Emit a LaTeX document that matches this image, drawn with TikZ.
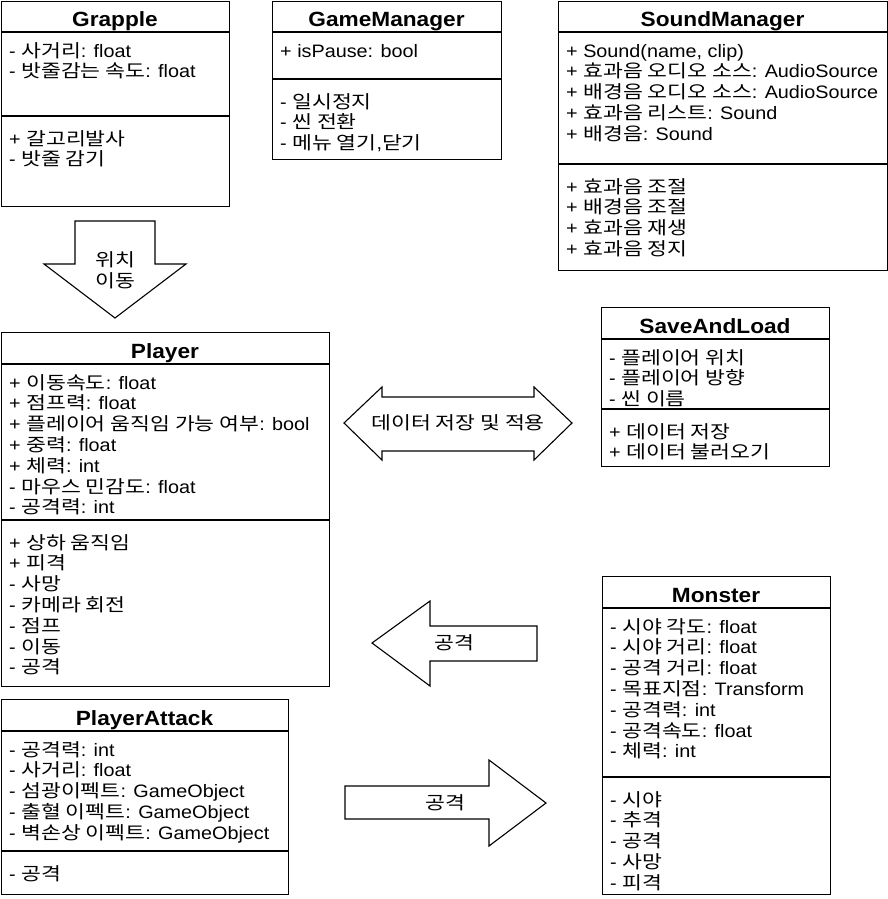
\documentclass[tikz,border=0pt]{standalone}
\usepackage{fontspec}
\setmainfont{Liberation Sans}[FakeStretch=1.1]
\newfontfamily\krfont{Noto Sans CJK KR}[FakeStretch=1.2]
\XeTeXinterchartokenstate=1
\newXeTeXintercharclass\HangulClass
\count255="AC00
\loop \XeTeXcharclass\count255=\HangulClass \ifnum\count255<"D7A3 \advance\count255 by 1 \repeat
\XeTeXinterchartoks 0 \HangulClass = {\krfont}
\XeTeXinterchartoks 4095 \HangulClass = {\krfont}
\XeTeXinterchartoks \HangulClass 0 = {\rmfamily}
\newcommand\bodyfont{\fontsize{18}{20.8}\selectfont}
\newcommand\titlefont{\fontsize{20.6}{24}\selectfont\bfseries}
\tikzset{
  boxrect/.style={draw=black, line width=1.1pt, anchor=north west, inner sep=0pt, fill=white},
  divline/.style={draw=black, line width=1.1pt},
  titletext/.style={anchor=base, inner sep=0pt, font=\titlefont},
  linetext/.style={anchor=base west, inner sep=0pt, font=\bodyfont},
  blockarrow/.style={draw=black, line width=1.1pt, fill=white, line join=miter},
  arrowtext/.style={inner sep=0pt, font=\bodyfont, align=center},
}
% name, x1, y1, x2, y2, div1, div2, title
\newcommand\umlbox[8]{%
  \node[boxrect, minimum width={(#4-#2)*1pt}, minimum height={(#5-#3)*1pt}] (#1) at (#2,#3) {};
  \draw[divline] (#2,#6) -- (#4,#6);
  \draw[divline] (#2,#7) -- (#4,#7);
  \node[titletext] (#1-title) at ({(#2+#4)/2},#3+26) {#8};
}
% name, x, first baseline, list
\newcommand\umllines[4]{%
  \foreach \l [count=\i] in {#4} {\node[linetext] (#1-\i) at (#2,{#3+(\i-1)*20.8}) {\l};}
}
\begin{document}
\begin{tikzpicture}[x=1pt,y=-1pt]
\useasboundingbox (0,0) rectangle (888,899);
\fill[white] (0,0) rectangle (888,899);

% Grapple
\umlbox{grapple}{1}{1}{229}{206}{32}{116}{Grapple}
\umllines{grapple-a}{9}{57}{- 사거리: float, - 밧줄감는 속도: float}
\umllines{grapple-m}{9}{145}{+ 갈고리발사, - 밧줄 감기}

% GameManager
\umlbox{gm}{272}{1}{501}{159}{32}{79}{GameManager}
\umllines{gm-a}{280}{57}{+ isPause: bool}
\umllines{gm-m}{280}{108}{- 일시정지, - 씬 전환, {- 메뉴 열기,닫기}}

% SoundManager
\umlbox{sm}{558}{1}{887}{270}{32}{164}{SoundManager}
\umllines{sm-a}{566}{57}{{+ Sound(name, clip)}, + 효과음 오디오 소스: AudioSource, + 배경음 오디오 소스: AudioSource, + 효과음 리스트: Sound, + 배경음: Sound}
\umllines{sm-m}{566}{193}{+ 효과음 조절, + 배경음 조절, + 효과음 재생, + 효과음 정지}

% SaveAndLoad
\umlbox{sal}{601}{307}{829}{466}{339}{409}{SaveAndLoad}
\umllines{sal-a}{609}{364}{- 플레이어 위치, - 플레이어 방향, - 씬 이름}
\umllines{sal-m}{609}{438}{+ 데이터 저장, + 데이터 불러오기}

% Player
\umlbox{player}{1}{332}{329}{686}{364}{520}{Player}
\umllines{player-a}{9}{389}{+ 이동속도: float, + 점프력: float, + 플레이어 움직임 가능 여부: bool, + 중력: float, + 체력: int, - 마우스 민감도: float, - 공격력: int}
\umllines{player-m}{9}{549}{+ 상하 움직임, + 피격, - 사망, - 카메라 회전, - 점프, - 이동, - 공격}

% PlayerAttack
\umlbox{pa}{1}{699}{288}{894}{731}{851}{PlayerAttack}
\umllines{pa-a}{9}{756}{- 공격력: int, - 사거리: float, - 섬광이펙트: GameObject, - 출혈 이펙트: GameObject, - 벽손상 이펙트: GameObject}
\umllines{pa-m}{9}{880}{- 공격}

% Monster
\umlbox{monster}{602}{576}{830}{894}{608}{777}{Monster}
\umllines{monster-a}{610}{633}{- 시야 각도: float, - 시야 거리: float, - 공격 거리: float, - 목표지점: Transform, - 공격력: int, - 공격속도: float, - 체력: int}
\umllines{monster-m}{610}{806}{- 시야, - 추격, - 공격, - 사망, - 피격}

% block arrows
\draw[blockarrow] (75,221) -- (155,221) -- (155,264) -- (186,264) -- (115,318) -- (44,264) -- (75,264) -- cycle;
\node[arrowtext] (move) at (115,270) {위치\\이동};

\draw[blockarrow] (344,423) -- (382,387) -- (382,397) -- (534,397) -- (534,387) -- (572,423) -- (534,460) -- (534,451) -- (382,451) -- (382,460) -- cycle;
\node[arrowtext] (save) at (458,423) {데이터 저장 및 적용};

\draw[blockarrow] (372,643) -- (430,601) -- (430,626) -- (537,626) -- (537,661) -- (430,661) -- (430,686) -- cycle;
\node[arrowtext] (atk1) at (454.5,643) {공격};

\draw[blockarrow] (345,786) -- (489,786) -- (489,760) -- (546,803) -- (489,846) -- (489,819) -- (345,819) -- cycle;
\node[arrowtext] (atk2) at (445.5,803) {공격};
\end{tikzpicture}
\end{document}
